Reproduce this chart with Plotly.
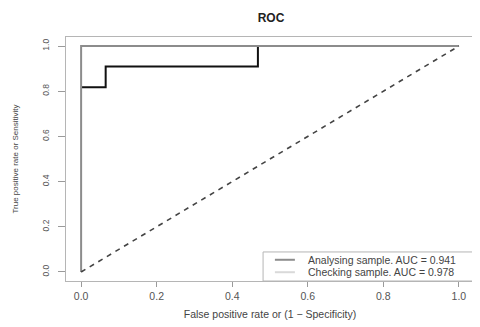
import plotly.graph_objects as go

# Data
analysing_fpr = [0.0, 0.0, 1.0]
analysing_tpr = [0.0, 1.0, 1.0]
checking_fpr = [0.0, 0.065, 0.065, 0.468, 0.468, 1.0]
checking_tpr = [0.818, 0.818, 0.909, 0.909, 1.0, 1.0]
diag = [0.0, 1.0]
legend_labels = ["Analysing sample. AUC = 0.941", "Checking sample. AUC = 0.978"]
legend_colors = ["#8c8c8c", "#d9d9d9"]
tick_vals = [0.0, 0.2, 0.4, 0.6, 0.8, 1.0]
tick_text = ["0.0", "0.2", "0.4", "0.6", "0.8", "1.0"]

FONT = "Liberation Sans, Arial, sans-serif"

# page body has an 8px default margin: figure is sized to fit the 480x327 window
W, H = 472, 319

fig = go.Figure()
fig.add_trace(go.Scatter(x=checking_fpr, y=checking_tpr, mode="lines",
                         line=dict(color="#111111", width=2),
                         showlegend=False, hoverinfo="skip"))
fig.add_trace(go.Scatter(x=analysing_fpr, y=analysing_tpr, mode="lines",
                         line=dict(color=legend_colors[0], width=2),
                         name=legend_labels[0], showlegend=False))
fig.add_trace(go.Scatter(x=diag, y=diag, mode="lines",
                         line=dict(color="#444444", width=1.6, dash="5px,5px"),
                         showlegend=False))

axis_common = dict(range=[-0.04, 1.04], tickvals=tick_vals, ticktext=tick_text,
                   showgrid=False, zeroline=False, showline=True, mirror=True,
                   linecolor="#b5b5b5", linewidth=1, ticks="outside",
                   tickcolor="#9a9a9a", tickwidth=1, automargin=False)

# Legend box (manual, R style)
lx0, lx1, ly0, ly1 = 0.483, 1.0, 0.0, 0.119
shapes = [dict(type="rect", xref="paper", yref="paper", x0=lx0, x1=lx1, y0=ly0, y1=ly1,
               line=dict(color="#b5b5b5", width=1), fillcolor="white", layer="above")]
row_y = [0.087, 0.036]
annotations = []
for lab, col, yy in zip(legend_labels, legend_colors, row_y):
    shapes.append(dict(type="line", xref="paper", yref="paper", x0=0.512, x1=0.561,
                       y0=yy, y1=yy, line=dict(color=col, width=2), layer="above"))
    annotations.append(dict(text=lab, xref="paper", yref="paper", x=0.589, y=yy,
                            xanchor="left", yanchor="middle", showarrow=False,
                            font=dict(size=10.5, color="#444444", family=FONT)))

fig.update_layout(
    width=W, height=H,
    margin=dict(l=58, r=6, t=29, b=46),
    paper_bgcolor="white", plot_bgcolor="white",
    font=dict(family=FONT, color="#444444"),
    showlegend=False,
    title=dict(text="<b>ROC</b>", x=263 / W, xanchor="center", y=1 - 10 / H, yanchor="middle",
               font=dict(size=12, color="#222222", family=FONT)),
    xaxis=dict(**axis_common, ticklen=5, tickfont=dict(size=10.5, color="#555555"),
               title=dict(text="False positive rate or (1 − Specificity)", standoff=10,
                          font=dict(size=10.5, color="#444444"))),
    yaxis=dict(**axis_common, ticklen=7, tickangle=-90, ticklabelstandoff=6,
               tickfont=dict(size=8.5, color="#555555"),
               title=dict(text="True positive rate or Sensitivity", standoff=20,
                          font=dict(size=8, color="#444444"))),
    shapes=shapes,
    annotations=annotations,
)

fig.write_html("out.html")
